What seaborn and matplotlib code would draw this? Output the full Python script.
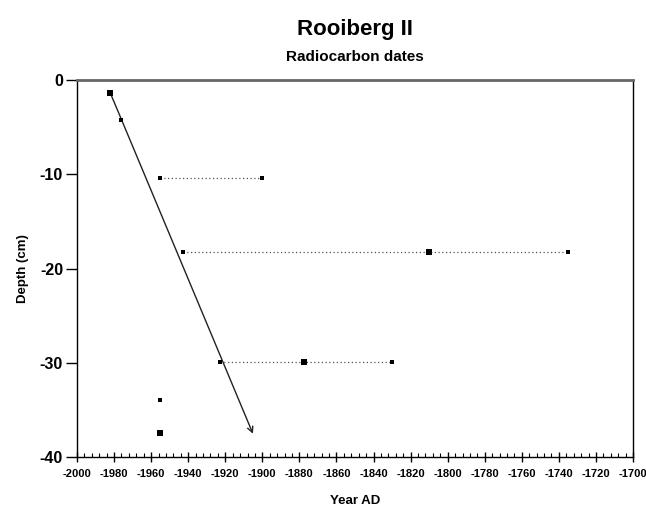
import matplotlib
matplotlib.use("Agg")
import matplotlib.pyplot as plt
import seaborn as sns
import pandas as pd
import numpy as np
from matplotlib.ticker import MultipleLocator

sns.set_theme(style="white")
plt.rcParams['font.family'] = ['Liberation Sans', 'DejaVu Sans']
plt.rcParams['axes.unicode_minus'] = False
plt.rcParams['text.color'] = 'black'
plt.rcParams['axes.labelcolor'] = 'black'
plt.rcParams['xtick.color'] = 'black'
plt.rcParams['ytick.color'] = 'black'

# Data
small_year = [-1976, -1955, -1900, -1943, -1735, -1923, -1830, -1955]
small_depth = [-4.2, -10.4, -10.4, -18.25, -18.25, -29.9, -29.9, -34.0]
big_year = [-1982, -1810, -1877.5, -1955]
big_depth = [-1.4, -18.25, -29.9, -37.4]
# date ranges (dotted)
range_depth = [-10.4, -18.25, -29.9]
range_start = [-1955, -1943, -1923]
range_end = [-1900, -1735, -1830]
# trend arrow
trend_year = [-1982, -1976, -1904.5]
trend_depth = [-1.4, -4.2, -37.8]

fig = plt.figure(figsize=(6.46, 5.07), dpi=100)
ax = fig.add_axes([0.1192, 0.0986, 0.8607, 0.7436])

for d, s, e in zip(range_depth, range_start, range_end):
    ax.plot([s, e], [d, d], linestyle=(0, (1, 2)), color='#555555', linewidth=0.9, zorder=1)

ax.plot(trend_year[:-1], trend_depth[:-1], color='#222222', linewidth=1.0, zorder=2)
ax.annotate('', xy=(trend_year[-1], trend_depth[-1]), xytext=(trend_year[1], trend_depth[1]),
            arrowprops=dict(arrowstyle='->', color='#222222', lw=1.0, mutation_scale=10), zorder=2)

df_s = pd.DataFrame({'year': small_year, 'depth': small_depth})
df_b = pd.DataFrame({'year': big_year, 'depth': big_depth})
sns.scatterplot(data=df_s, x='year', y='depth', ax=ax, marker='s', s=12, color='black',
                edgecolor='black', linewidth=0, zorder=3)
sns.scatterplot(data=df_b, x='year', y='depth', ax=ax, marker='s', s=24, color='black',
                edgecolor='black', linewidth=0, zorder=3)

ax.set_xlim(-2000, -1700)
ax.set_ylim(-40, 0)
ax.xaxis.set_major_locator(MultipleLocator(20))
ax.xaxis.set_minor_locator(MultipleLocator(4))
ax.yaxis.set_major_locator(MultipleLocator(10))
ax.yaxis.set_minor_locator(MultipleLocator(2))

ax.tick_params(axis='x', which='major', direction='inout', length=7, width=1,
               labelsize=8, pad=5, bottom=True)
ax.tick_params(axis='x', which='minor', direction='in', length=3, width=0.8, bottom=True)
ax.tick_params(axis='y', which='major', direction='out', length=8, width=1,
               labelsize=11.5, pad=2, left=True)
ax.tick_params(axis='y', which='minor', direction='in', length=0, left=True)
for lab in ax.get_xticklabels() + ax.get_yticklabels():
    lab.set_fontweight('bold')

for side in ['left', 'bottom', 'right']:
    ax.spines[side].set_color('black')
    ax.spines[side].set_linewidth(1.0)
ax.spines['top'].set_color('#666666')
ax.spines['top'].set_linewidth(2.0)

ax.set_xlabel('Year AD', fontsize=9.5, fontweight='bold', labelpad=12)
ax.set_ylabel('Depth (cm)', fontsize=9.5, fontweight='bold', labelpad=8)

fig.text(0.5495, 1 - 30/507, 'Rooiberg II', ha='center', va='center', fontsize=16, fontweight='bold')
fig.text(0.5495, 1 - 57/507, 'Radiocarbon dates', ha='center', va='center', fontsize=11, fontweight='bold')

fig.savefig('out.png', dpi=100)
